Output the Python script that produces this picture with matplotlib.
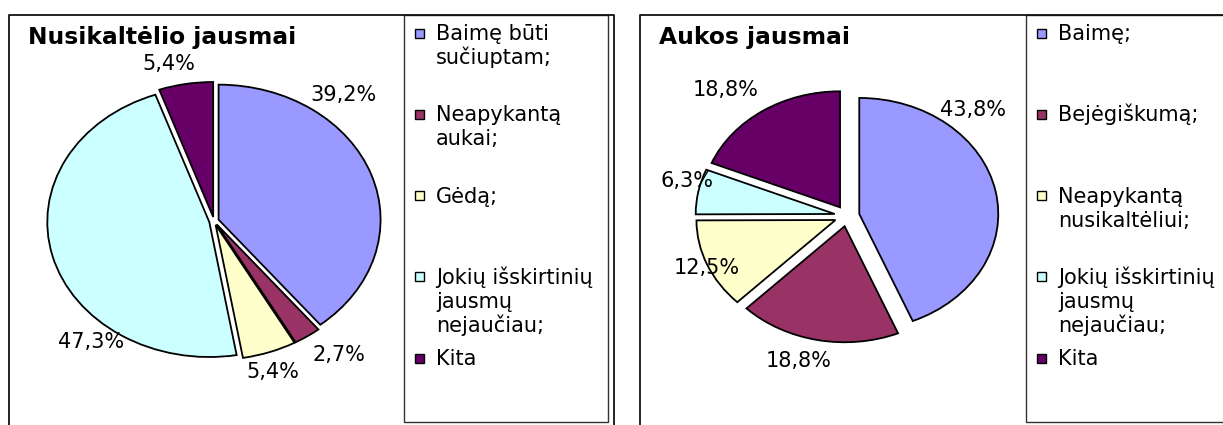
import numpy as np
import matplotlib.pyplot as plt
from matplotlib.patches import Rectangle

W, H = 1223, 425

colors = ['#9999FF', '#993366', '#FFFFCC', '#CCFFFF', '#660066']

offender_labels = ['Baimę būti\nsučiuptam;', 'Neapykantą\naukai;', 'Gėdą;',
                   'Jokių išskirtinių\njausmų\nnejaučiau;', 'Kita']
offender_share = [39.2, 2.7, 5.4, 47.3, 5.4]

victim_labels = ['Baimę;', 'Bejėgiškumą;', 'Neapykantą\nnusikaltėliui;',
                 'Jokių išskirtinių\njausmų\nnejaučiau;', 'Kita']
victim_share = [43.8, 18.8, 12.5, 6.3, 18.8]

fig = plt.figure(figsize=(W / 100, H / 100), dpi=100)
fig.patch.set_facecolor('white')

# full-figure axes in pixel units for frames, titles and legends
bg = fig.add_axes([0, 0, 1, 1])
bg.set_xlim(0, W)
bg.set_ylim(H, 0)
bg.axis('off')

LIM = 1.4


def pie_axes(cx, cy, rx, ry):
    w, h = 2 * LIM * rx, 2 * LIM * ry
    return fig.add_axes([(cx - w / 2) / W, 1 - (cy + h / 2) / H, w / W, h / H])


def draw_panel(frame_x, legend_x, title, center, radii, shares, labels,
               explode, label_xy):
    # chart frame (open at the bottom) and legend box
    bg.plot([frame_x[0], frame_x[0], frame_x[1], frame_x[1]], [H + 5, 15, 15, H + 5],
            color='#111111', lw=1.3)
    bg.add_patch(Rectangle((legend_x[0], 15), legend_x[1] - legend_x[0], 407,
                           fill=False, edgecolor='#333333', lw=1))
    bg.text(frame_x[0] + 19, 44, title, fontsize=16.8, fontweight='bold',
            va='baseline', ha='left')

    ax = pie_axes(center[0], center[1], *radii)
    ax.pie(shares, colors=colors, startangle=90, counterclock=False,
           explode=[explode] * len(shares),
           wedgeprops=dict(edgecolor='black', linewidth=1.3))
    ax.set_aspect('auto')
    ax.set_xlim(-LIM, LIM)
    ax.set_ylim(-LIM, LIM)
    for v, (x, y) in zip(shares, label_xy):
        ax.text(x, y, f'{v:.1f}%'.replace('.', ','), fontsize=15,
                ha='center', va='center')

    # legend entries in evenly spaced slots
    slots = np.linspace(33, 358, len(labels))
    for lab, col, ys in zip(labels, colors, slots):
        bg.add_patch(Rectangle((legend_x[0] + 11, ys - 4.5), 9, 9, facecolor=col,
                               edgecolor='black', lw=1))
        for i, line in enumerate(lab.split('\n')):
            bg.text(legend_x[0] + 32, ys + 7 + i * 24, line, fontsize=15,
                    va='baseline', ha='left')


draw_panel((9, 614), (404, 608), 'Nusikaltėlio jausmai', (214, 221), (162, 135),
           offender_share, offender_labels, 0.03,
           [(0.80, 0.93), (0.77, -0.99), (0.36, -1.12), (-0.76, -0.90), (-0.28, 1.16)])

draw_panel((640, 1232), (1026, 1228), 'Aukos jausmai', (847, 216), (139, 116),
           victim_share, victim_labels, 0.09,
           [(0.91, 0.91), (-0.35, -1.25), (-1.01, -0.45), (-1.15, 0.30), (-0.87, 1.09)])

fig.savefig('out.png', dpi=100)
